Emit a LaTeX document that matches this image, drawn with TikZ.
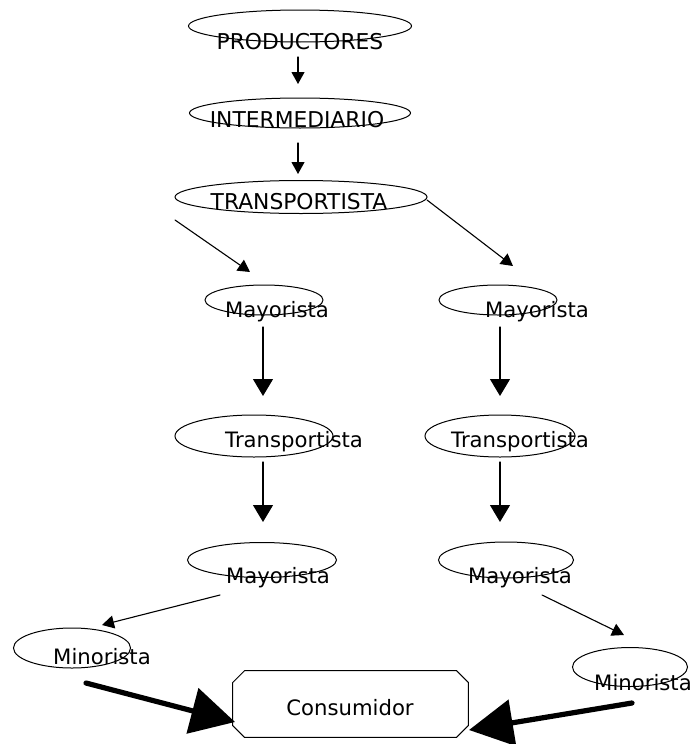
\documentclass[tikz,border=0pt]{standalone}
\usepackage{fontspec}
\setmainfont{DejaVu Sans}
\usetikzlibrary{arrows.meta,shapes.geometric}

\begin{document}
\begin{tikzpicture}[x=0.5pt, y=-0.5pt, cap=round]

    % let's define some key values
    \useasboundingbox (0,0) rectangle (694,744);
    \def\fs{\fontsize{10.6}{12}\selectfont}
    \def\fcaps{\fontsize{10.9}{12}\selectfont}
    \def\ch{6pt}

    % Styles
    \tikzset{
        oval/.style={draw, ellipse, line width=0.5pt, inner sep=0pt},
        lbl/.style={inner sep=0pt, font=\fs},
        caplbl/.style={inner sep=0pt, font=\fcaps},
        flow/.style={-{Triangle[length=6pt, width=6.5pt]}, line width=0.55pt},
        bigflow/.style={-{Triangle[length=22pt, width=23pt]}, line width=2.6pt},
    }

    % ovals
    \node [oval, minimum width=111.5pt, minimum height=16pt] (prod) at (300,26) {};
    \node [oval, minimum width=110.5pt, minimum height=15pt] (inter) at (300,113) {};
    \node [oval, minimum width=126pt, minimum height=16.5pt] (trans) at (301,197) {};
    \node [oval, minimum width=59pt, minimum height=15pt] (mayA) at (264,300) {};
    \node [oval, minimum width=59pt, minimum height=15pt] (mayB) at (498,300) {};
    \node [oval, minimum width=79pt, minimum height=21pt] (traA) at (254,436) {};
    \node [oval, minimum width=75pt, minimum height=21pt] (traB) at (500,436) {};
    \node [oval, minimum width=74.5pt, minimum height=17.5pt] (mayC) at (262,560) {};
    \node [oval, minimum width=67.5pt, minimum height=18pt] (mayD) at (506,560) {};
    \node [oval, minimum width=58.5pt, minimum height=20pt] (minA) at (72,648) {};
    \node [oval, minimum width=57.5pt, minimum height=19.5pt] (minB) at (630,667) {};

    % consumer box, corners cut
    \node [minimum width=117.5pt, minimum height=33pt, inner sep=0pt] (cons) at (350.5,704) {};
    \draw [line width=0.5pt]
        ([xshift=\ch]cons.north west) -- ([xshift=-\ch]cons.north east)
        -- ([yshift=-\ch]cons.north east) -- ([yshift=\ch]cons.south east)
        -- ([xshift=-\ch]cons.south east) -- ([xshift=\ch]cons.south west)
        -- ([yshift=\ch]cons.south west) -- ([yshift=-\ch]cons.north west) -- cycle;

    % labels
    \node [caplbl] (prodT) at (300,42) {PRODUCTORES};
    \node [caplbl] (interT) at (297,120) {INTERMEDIARIO};
    \node [caplbl] (transT) at (299,202) {TRANSPORTISTA};
    \node [lbl] (mayAT) at (277,312) {Mayorista};
    \node [lbl] (mayBT) at (537,312) {Mayorista};
    \node [lbl] (traAT) at (294,442) {Transportista};
    \node [lbl] (traBT) at (520,442) {Transportista};
    \node [lbl] (mayCT) at (278,578) {Mayorista};
    \node [lbl] (mayDT) at (520,578) {Mayorista};
    \node [lbl] (minAT) at (102,657) {Minorista};
    \node [lbl] (minBT) at (643,683) {Minorista};
    \node [lbl] (consT) at (350,708) {Consumidor};

    % arrow ends
    \coordinate (a1) at (298,57);   \coordinate (b1) at (298,84);
    \coordinate (a2) at (298,143);  \coordinate (b2) at (298,174);
    \coordinate (a3) at (175,220);  \coordinate (b3) at (250,272);
    \coordinate (a4) at (427,200);  \coordinate (b4) at (513,266);
    \coordinate (a5) at (263,327);  \coordinate (b5) at (263,396);
    \coordinate (a6) at (500,327);  \coordinate (b6) at (500,396);
    \coordinate (a7) at (263,462);  \coordinate (b7) at (263,522);
    \coordinate (a8) at (500,462);  \coordinate (b8) at (500,522);
    \coordinate (a9) at (220,595);  \coordinate (b9) at (102,625);
    \coordinate (a10) at (542,595); \coordinate (b10) at (624,635);
    \coordinate (a11) at (86,683);  \coordinate (b11) at (235,722);
    \coordinate (a12) at (632,703); \coordinate (b12) at (469,730);

    % flows
    \draw [flow] (a1) -- (b1);
    \draw [flow] (a2) -- (b2);
    \draw [flow] (a3) -- (b3);
    \draw [flow] (a4) -- (b4);
    \draw [flow, -{Triangle[length=8.5pt, width=10pt]}] (a5) -- (b5);
    \draw [flow, -{Triangle[length=8.5pt, width=10pt]}] (a6) -- (b6);
    \draw [flow, -{Triangle[length=8.5pt, width=10pt]}] (a7) -- (b7);
    \draw [flow, -{Triangle[length=8.5pt, width=10pt]}] (a8) -- (b8);
    \draw [flow] (a9) -- (b9);
    \draw [flow] (a10) -- (b10);
    \draw [bigflow] (a11) -- (b11);
    \draw [bigflow] (a12) -- (b12);

\end{tikzpicture}
\end{document}
